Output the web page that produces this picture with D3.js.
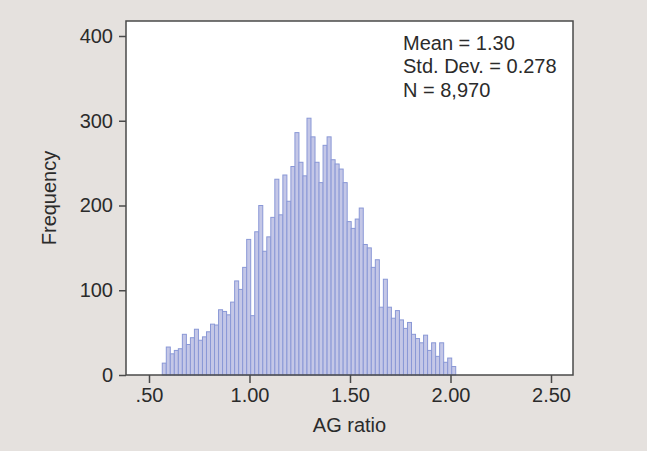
<!DOCTYPE html>
<html>
<head>
<meta charset="utf-8">
<script src="https://cdn.jsdelivr.net/npm/d3@7"></script>
<style>
  html, body { margin: 0; padding: 0; background: #e5e1de; }
  svg { display: block; font-family: "Liberation Sans", Arial, sans-serif; }
</style>
</head>
<body>
<div id="plot"></div>
<script>
// histogram of AG ratio, bins of width 0.02
const binStart = 0.566;
const binWidth = 0.02;
const counts = [
  14, 33, 25, 29, 31, 48, 36, 44, 54, 41, 45, 51, 60, 59,
  77, 75, 71, 86, 111, 101, 127, 160, 70, 169, 200, 146, 163, 186,
  231, 189, 236, 205, 246, 286, 251, 235, 303, 281, 251, 227, 271, 281,
  254, 249, 243, 227, 181, 173, 184, 197, 154, 150, 127, 136, 80, 113,
  80, 67, 76, 65, 55, 62, 48, 43, 38, 47, 29, 38, 22, 38, 15, 20, 10
];
const xTicks = [0.5, 1.0, 1.5, 2.0, 2.5];
const xTickLabels = [".50", "1.00", "1.50", "2.00", "2.50"];
const yTicks = [0, 100, 200, 300, 400];
const statLines = ["Mean = 1.30", "Std. Dev. = 0.278", "N = 8,970"];

const width = 647, height = 451;
const plot_left = 126, plot_right = 573, plot_top = 21, plot_bottom = 375;
const text_color = "#2b2b2b";

const svg = d3.select("#plot")
  .append("svg")
  .attr("width", width)
  .attr("height", height);

const x = d3.scaleLinear()
  .domain([0.5 - 23 / 201, 0.5 + 424 / 201])
  .range([plot_left, plot_right]);

const y = d3.scaleLinear()
  .domain([0, 400 * (plot_bottom - plot_top) / (plot_bottom - 36)])
  .range([plot_bottom, plot_top]);

// plot area
svg.append("rect")
  .attr("x", plot_left)
  .attr("y", plot_top)
  .attr("width", plot_right - plot_left)
  .attr("height", plot_bottom - plot_top)
  .attr("fill", "#ffffff");

// bars
svg.append("g")
  .selectAll("rect")
  .data(counts)
  .enter()
  .append("rect")
  .attr("x", (d, i) => x(binStart + i * binWidth))
  .attr("y", d => y(d))
  .attr("width", (d, i) => x(binStart + (i + 1) * binWidth) - x(binStart + i * binWidth))
  .attr("height", d => plot_bottom - y(d))
  .attr("fill", "#c4c7e7")
  .attr("stroke", "#8a98d6")
  .attr("stroke-width", 1);

// frame
svg.append("rect")
  .attr("x", plot_left)
  .attr("y", plot_top)
  .attr("width", plot_right - plot_left)
  .attr("height", plot_bottom - plot_top)
  .attr("fill", "none")
  .attr("stroke", "#4a4a4a")
  .attr("stroke-width", 1.5);

// x axis
const xAxis = svg.append("g")
  .attr("transform", "translate(0," + plot_bottom + ")")
  .call(d3.axisBottom(x)
    .tickValues(xTicks)
    .tickFormat((d, i) => xTickLabels[i])
    .tickSize(8)
    .tickPadding(5));

// y axis
const yAxis = svg.append("g")
  .attr("transform", "translate(" + plot_left + ",0)")
  .call(d3.axisLeft(y)
    .tickValues(yTicks)
    .tickSize(7)
    .tickPadding(6));

[xAxis, yAxis].forEach(g => {
  g.select(".domain").remove();
  g.selectAll("line").attr("stroke", "#4a4a4a").attr("stroke-width", 1.5);
  g.selectAll("text")
    .attr("fill", text_color)
    .style("font-size", "20px")
    .style("font-family", "Liberation Sans, Arial, sans-serif");
});

// axis titles
svg.append("text")
  .attr("x", (plot_left + plot_right) / 2)
  .attr("y", 432)
  .attr("text-anchor", "middle")
  .attr("fill", text_color)
  .style("font-size", "20px")
  .text("AG ratio");

svg.append("text")
  .attr("transform", "rotate(-90)")
  .attr("x", -198)
  .attr("y", 56)
  .attr("text-anchor", "middle")
  .attr("fill", text_color)
  .style("font-size", "20px")
  .text("Frequency");

// summary statistics
svg.append("g")
  .selectAll("text")
  .data(statLines)
  .enter()
  .append("text")
  .attr("x", 403)
  .attr("y", (d, i) => 50 + i * 23.3)
  .attr("fill", text_color)
  .style("font-size", "20px")
  .text(d => d);
</script>
</body>
</html>
